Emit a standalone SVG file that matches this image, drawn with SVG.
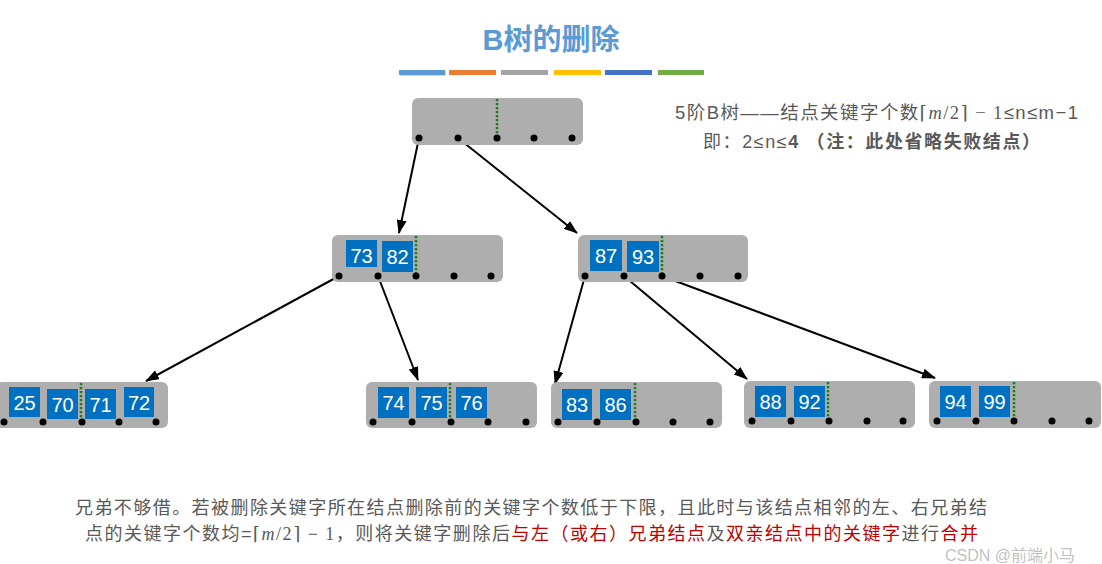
<svg xmlns="http://www.w3.org/2000/svg" width="1102" height="564" viewBox="0 0 1102 564">
<style>
.nd{fill:#AEAEAE}
.dot{fill:#000}
.sep{stroke:#1E7B1E;stroke-width:2.5;stroke-dasharray:2.2 1.8}
.key{fill:#0070C0}
.kt{font-family:"Liberation Sans",Arial,sans-serif;font-size:20px;fill:#fff;text-anchor:middle}
.cn{stroke:#000;stroke-width:2;fill:none;marker-end:url(#ah)}
.tx{font-family:"Liberation Sans","Noto Sans CJK SC",sans-serif;fill:#595959}
.math{font-family:"Liberation Serif","DejaVu Serif",serif}
.red{fill:#C00000}
</style>
<defs>
<marker id="ah" markerWidth="14" markerHeight="10" refX="13" refY="5" orient="auto" markerUnits="userSpaceOnUse">
<path d="M0,0 L14,5 L0,10 Z" fill="#000"/>
</marker>
</defs>
<rect width="1102" height="564" fill="#fff"/>
<g id="title">
<text x="551" y="50" text-anchor="middle" font-family="Liberation Sans,Noto Sans CJK SC,sans-serif" font-weight="bold" font-size="29" fill="#5B9BD5">B树的删除</text>
<g>
<rect x="400" y="71" width="46" height="5" fill="#8c8c8c" opacity="0.35"/>
<rect x="399" y="70" width="46" height="5" fill="#5B9BD5"/>
<rect x="449" y="70" width="47" height="5" fill="#ED7D31"/>
<rect x="501" y="70" width="47" height="5" fill="#A5A5A5"/>
<rect x="554" y="70" width="47" height="5" fill="#FFC000"/>
<rect x="605" y="70" width="47" height="5" fill="#4472C4"/>
<rect x="658" y="70" width="46" height="5" fill="#70AD47"/>
</g>
</g>
<g id="note">
<text class="tx" x="675" y="119" font-size="18.5" textLength="403" lengthAdjust="spacing">5阶B树——结点关键字个数<tspan class="math">⌈<tspan font-style="italic">m</tspan>/2⌉ − 1</tspan>≤n≤m−1</text>
<text class="tx" x="703" y="148" font-size="18" textLength="337" lengthAdjust="spacing">即：2≤n≤<tspan font-weight="bold">4 （注：此处省略失败结点）</tspan></text>
</g>
<g id="connectors">
<line class="cn" x1="419" y1="138" x2="399" y2="233"/>
<line class="cn" x1="458" y1="138" x2="577" y2="233"/>
<line class="cn" x1="339" y1="276" x2="146" y2="381"/>
<line class="cn" x1="378" y1="276" x2="418" y2="380"/>
<line class="cn" x1="585" y1="276" x2="555" y2="384"/>
<line class="cn" x1="624" y1="276" x2="747" y2="379"/>
<line class="cn" x1="662" y1="276" x2="935" y2="378"/>
</g>
<g id="root">
<rect class="nd" x="412" y="98" width="171" height="47" rx="6"/>
<line class="sep" x1="497" y1="99" x2="497" y2="136"/>
<circle class="dot" cx="419" cy="138" r="3.5"/><circle class="dot" cx="458" cy="138" r="3.5"/><circle class="dot" cx="497" cy="138" r="3.5"/><circle class="dot" cx="534" cy="138" r="3.5"/><circle class="dot" cx="572" cy="138" r="3.5"/>
</g>
<g id="n7382">
<rect class="nd" x="332" y="235" width="171" height="47" rx="6"/>
<rect class="key" x="346" y="240" width="31" height="27"/><text class="kt" x="361.5" y="263">73</text>
<rect class="key" x="382" y="241" width="31" height="31"/><text class="kt" x="397.5" y="264">82</text>
<line class="sep" x1="416" y1="236" x2="416" y2="274"/>
<circle class="dot" cx="339" cy="276" r="3.5"/><circle class="dot" cx="378" cy="276" r="3.5"/><circle class="dot" cx="416" cy="276" r="3.5"/><circle class="dot" cx="454" cy="276" r="3.5"/><circle class="dot" cx="491" cy="276" r="3.5"/>
</g>
<g id="n8793">
<rect class="nd" x="578" y="235" width="170" height="47" rx="6"/>
<rect class="key" x="590" y="240" width="32" height="31"/><text class="kt" x="606" y="263">87</text>
<rect class="key" x="627" y="241" width="32" height="31"/><text class="kt" x="643" y="264">93</text>
<line class="sep" x1="662" y1="236" x2="662" y2="274"/>
<circle class="dot" cx="585" cy="276" r="3.5"/><circle class="dot" cx="624" cy="276" r="3.5"/><circle class="dot" cx="662" cy="276" r="3.5"/><circle class="dot" cx="700" cy="276" r="3.5"/><circle class="dot" cx="738" cy="276" r="3.5"/>
</g>
<g id="leaf1">
<rect class="nd" x="-4" y="382" width="172" height="46" rx="6"/>
<rect class="key" x="9" y="387" width="31" height="30"/><text class="kt" x="24.5" y="410">25</text>
<rect class="key" x="47" y="389" width="31" height="30"/><text class="kt" x="62.5" y="412">70</text>
<line class="sep" x1="81" y1="383" x2="81" y2="420"/>
<rect class="key" x="85" y="389" width="31" height="30"/><text class="kt" x="100.5" y="412">71</text>
<rect class="key" x="124" y="387" width="30" height="30"/><text class="kt" x="139" y="410">72</text>
<circle class="dot" cx="4" cy="422" r="3.5"/><circle class="dot" cx="43" cy="422" r="3.5"/><circle class="dot" cx="82" cy="422" r="3.5"/><circle class="dot" cx="119" cy="422" r="3.5"/><circle class="dot" cx="156" cy="422" r="3.5"/>
</g>
<g id="leaf2">
<rect class="nd" x="366" y="382" width="171" height="46" rx="6"/>
<rect class="key" x="378" y="387" width="31" height="31"/><text class="kt" x="393.5" y="410">74</text>
<rect class="key" x="416" y="387" width="31" height="31"/><text class="kt" x="431.5" y="410">75</text>
<line class="sep" x1="450" y1="383" x2="450" y2="420"/>
<rect class="key" x="456" y="387" width="31" height="31"/><text class="kt" x="471.5" y="410">76</text>
<circle class="dot" cx="373" cy="422" r="3.5"/><circle class="dot" cx="412" cy="422" r="3.5"/><circle class="dot" cx="451" cy="422" r="3.5"/><circle class="dot" cx="488" cy="422" r="3.5"/><circle class="dot" cx="526" cy="422" r="3.5"/>
</g>
<g id="leaf3">
<rect class="nd" x="551" y="382" width="171" height="46" rx="6"/>
<rect class="key" x="562" y="389" width="30" height="31"/><text class="kt" x="577" y="412">83</text>
<rect class="key" x="600" y="389" width="31" height="31"/><text class="kt" x="615.5" y="412">86</text>
<line class="sep" x1="635" y1="383" x2="635" y2="420"/>
<circle class="dot" cx="558" cy="422" r="3.5"/><circle class="dot" cx="597" cy="422" r="3.5"/><circle class="dot" cx="636" cy="422" r="3.5"/><circle class="dot" cx="673" cy="422" r="3.5"/><circle class="dot" cx="710" cy="422" r="3.5"/>
</g>
<g id="leaf4">
<rect class="nd" x="744" y="381" width="171" height="47" rx="6"/>
<rect class="key" x="755" y="386" width="31" height="31"/><text class="kt" x="770.5" y="409">88</text>
<rect class="key" x="794" y="386" width="31" height="31"/><text class="kt" x="809.5" y="409">92</text>
<line class="sep" x1="828" y1="382" x2="828" y2="419"/>
<circle class="dot" cx="752" cy="421" r="3.5"/><circle class="dot" cx="791" cy="421" r="3.5"/><circle class="dot" cx="829" cy="421" r="3.5"/><circle class="dot" cx="867" cy="421" r="3.5"/><circle class="dot" cx="903" cy="421" r="3.5"/>
</g>
<g id="leaf5">
<rect class="nd" x="929" y="381" width="172" height="47" rx="6"/>
<rect class="key" x="940" y="386" width="31" height="31"/><text class="kt" x="955.5" y="409">94</text>
<rect class="key" x="979" y="386" width="31" height="31"/><text class="kt" x="994.5" y="409">99</text>
<line class="sep" x1="1014" y1="382" x2="1014" y2="419"/>
<circle class="dot" cx="937" cy="421" r="3.5"/><circle class="dot" cx="976" cy="421" r="3.5"/><circle class="dot" cx="1014" cy="421" r="3.5"/><circle class="dot" cx="1052" cy="421" r="3.5"/><circle class="dot" cx="1089" cy="421" r="3.5"/>
</g>
<g id="caption">
<text class="tx" x="75" y="514" font-size="18" textLength="912" lengthAdjust="spacing">兄弟不够借。若被删除关键字所在结点删除前的关键字个数低于下限，且此时与该结点相邻的左、右兄弟结</text>
<text class="tx" x="85" y="540" font-size="18" textLength="893" lengthAdjust="spacing">点的关键字个数均=<tspan class="math">⌈<tspan font-style="italic">m</tspan>/2⌉ − 1</tspan>，则将关键字删除后<tspan class="red">与左（或右）兄弟结点</tspan>及<tspan class="red">双亲结点中的关键字</tspan>进行<tspan class="red">合并</tspan></text>
</g>
<g id="watermark">
<text x="945" y="561" font-family="Liberation Sans,Noto Sans CJK SC,sans-serif" font-size="16" fill="#8a8a8a" fill-opacity="0.55">CSDN @前端小马</text>
</g>
</svg>
